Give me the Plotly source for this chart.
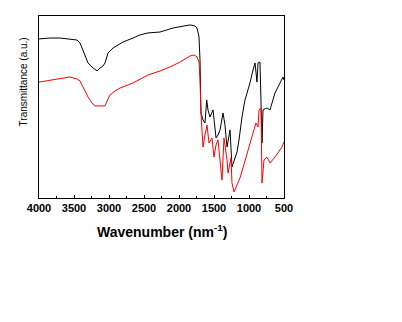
import plotly.graph_objects as go

# Wavenumber (cm^-1 / as labelled) and transmittance (a.u.)
black_wn = [4000, 3843, 3700, 3557, 3457, 3414, 3371, 3329, 3300, 3243, 3200, 3171, 3129, 3086, 3057,
            3014, 2943, 2871, 2800, 2657, 2557, 2443, 2271, 2086, 1957, 1843, 1771, 1743, 1714, 1700,
            1686, 1657, 1629, 1604, 1586, 1557, 1514, 1471, 1443, 1414, 1371, 1343, 1314, 1271, 1243,
            1200, 1171, 1143, 1100, 1057, 986, 943, 914, 886, 871, 843, 814, 800, 743, 700, 629, 557,
            514, 500]
black_t = [87.4, 87.9, 87.9, 87.4, 86.8, 85.2, 81.3, 77.5, 74.2, 72.0, 70.9, 69.8, 71.4, 72.5, 74.2,
           79.7, 82.4, 84.1, 85.7, 87.9, 89.6, 90.7, 91.2, 93.4, 94.5, 95.1, 94.5, 93.4, 88.5, 75.8,
           46.7, 42.9, 41.2, 53.9, 48.4, 44.5, 48.4, 33.0, 34.6, 37.4, 46.7, 40.1, 28.0, 37.4, 17.0,
           22.5, 25.3, 31.9, 44.5, 53.9, 63.2, 70.3, 74.2, 63.7, 74.2, 74.7, 30.2, 48.4, 49.5, 48.4,
           57.7, 63.2, 66.5, 64.8]

red_wn = [4000, 3843, 3700, 3557, 3457, 3414, 3371, 3329, 3300, 3243, 3200, 3129, 3057, 3014, 2986,
          2914, 2843, 2657, 2443, 2271, 2129, 1986, 1843, 1786, 1743, 1714, 1700, 1686, 1657, 1629,
          1600, 1571, 1529, 1500, 1471, 1443, 1414, 1386, 1357, 1314, 1300, 1257, 1243, 1214, 1171,
          1129, 1086, 1029, 986, 943, 900, 871, 857, 829, 814, 786, 743, 700, 629, 529, 500]
red_t = [63.7, 64.8, 65.9, 66.5, 65.4, 64.3, 61.0, 57.7, 55.5, 52.2, 50.6, 50.6, 50.6, 54.4, 56.6,
         58.8, 60.4, 63.2, 67.6, 69.8, 72.0, 74.7, 78.0, 78.6, 77.5, 74.7, 64.8, 46.7, 28.0, 34.6,
         40.1, 30.2, 33.0, 22.5, 29.1, 31.9, 20.9, 9.9, 33.0, 20.9, 13.7, 22.0, 8.2, 3.3, 7.1,
         11.0, 16.5, 24.7, 30.2, 35.7, 41.2, 39.0, 48.4, 49.5, 8.2, 20.9, 22.5, 19.2, 22.5, 28.0, 30.8]

x_ticks = [4000, 3500, 3000, 2500, 2000, 1500, 1000, 500]

fig = go.Figure()
fig.add_trace(go.Scatter(x=black_wn, y=black_t, mode="lines",
                         line=dict(color="black", width=1), showlegend=False))
fig.add_trace(go.Scatter(x=red_wn, y=red_t, mode="lines",
                         line=dict(color="#ff0000", width=1), showlegend=False))

fig.update_layout(
    width=402, height=322,
    margin=dict(l=39, r=118, t=16, b=124),
    paper_bgcolor="white", plot_bgcolor="white",
    font=dict(family="Liberation Sans, Arial, sans-serif", color="black"),
    xaxis=dict(range=[4000, 500], tickvals=x_ticks, ticktext=[str(v) for v in x_ticks],
               ticks="inside", ticklen=3, tickwidth=1, tickcolor="black",
               minor=dict(dtick=250, tick0=0, ticks="inside", ticklen=2, tickcolor="black"),
               showline=True, linecolor="black", linewidth=1, mirror=True,
               showgrid=False, zeroline=False,
               tickfont=dict(size=11, weight="bold", color="black")),
    yaxis=dict(range=[0, 100], showticklabels=False, ticks="",
               showline=True, linecolor="black", linewidth=1, mirror=True,
               showgrid=False, zeroline=False),
    annotations=[
        dict(text="<b>Wavenumber (nm<sup>-1</sup>)</b>", xref="paper", yref="paper",
             x=0.5, y=-0.181, xanchor="center", yanchor="middle", showarrow=False,
             font=dict(size=14, color="black")),
        dict(text="Transmittance (a.u.)", xref="paper", yref="paper",
             x=-0.0653, y=0.635, xanchor="center", yanchor="middle", textangle=-90,
             showarrow=False, font=dict(size=10, color="black")),
    ],
)

fig.write_html("out.html")
